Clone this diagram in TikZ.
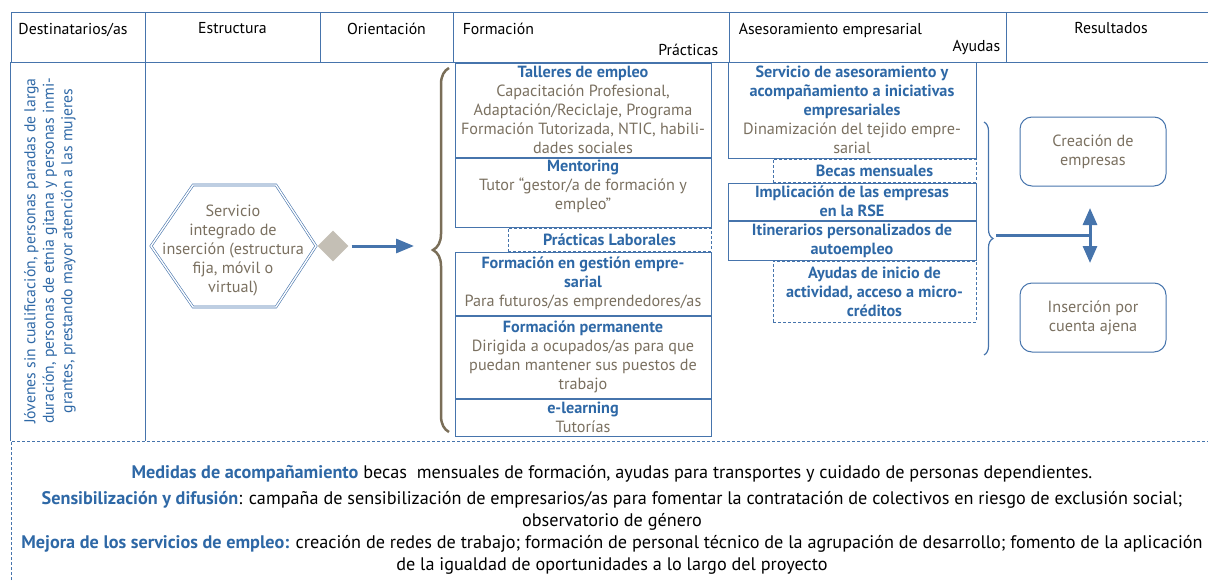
\documentclass[tikz,border=0pt]{standalone}
\usepackage{fontspec}
\setmainfont{PT Sans}
\usetikzlibrary{positioning,shapes.geometric,arrows.meta,decorations.pathreplacing}
\definecolor{azul}{RGB}{70,116,172}
\definecolor{azultit}{RGB}{46,104,166}
\definecolor{marron}{RGB}{122,112,96}
\definecolor{llavemarron}{RGB}{122,110,88}
\definecolor{grisrombo}{RGB}{196,191,181}
\newcommand{\titulo}[1]{\textcolor{azultit}{\textbf{#1}}}
\begin{document}
\begin{tikzpicture}[x=1pt, y=-1pt,
    every node/.style={font=\fontsize{16.2}{19}\selectfont, inner sep=0pt},
    celda/.style={draw=azul, line width=0.8pt, minimum height=50pt},
    cabtxt/.style={font=\fontsize{15.8}{19}\selectfont},
    caja/.style={draw=azul, line width=1pt, align=center, text=marron},
    punteada/.style={caja, dash pattern=on 3pt off 2pt},
    resultado/.style={caja, rounded corners=12pt, minimum width=146pt, minimum height=69pt},
    flecha/.style={draw=azul, line width=3pt, -{Triangle[length=18pt,width=14pt]}}]
  \useasboundingbox (0,0) rectangle (1208,581);

  % Cabecera
  \node[celda, minimum width=134pt] (dest) at (78,37) {};
  \node[celda, minimum width=175pt] (estr) at (232.5,37) {};
  \node[celda, minimum width=133pt] (orie) at (386.5,37) {};
  \node[celda, minimum width=276pt] (form) at (591,37) {};
  \node[celda, minimum width=277pt] (ases) at (867.5,37) {};
  \node[celda, minimum width=210pt] (resu) at (1111,37) {};
  \node[cabtxt, below=11pt of dest.north, xshift=-5pt] (destT) {Destinatarios/as};
  \node[cabtxt, below=11pt of estr.north] (estrT) {Estructura};
  \node[cabtxt, below=11pt of orie.north] (orieT) {Orientación};
  \node[cabtxt, below right=11pt and 10pt of form.north west] (formT) {Formación};
  \node[cabtxt, above left=7pt and 11pt of form.south east] (pracT) {Prácticas};
  \node[cabtxt, below right=11pt and 10pt of ases.north west] (asesT) {Asesoramiento empresarial};
  \node[cabtxt, above left=7pt and 6pt of ases.south east] (ayudT) {Ayudas};
  \node[cabtxt, below=11pt of resu.north] (resuT) {Resultados};

  % Destinatarios y estructura
  \coordinate (fondo) at (0,441);
  \draw[azul, line width=0.8pt] (dest.south west) -- (dest.south west |- fondo);
  \draw[azul, line width=0.8pt] (dest.south east) -- (dest.south east |- fondo);
  \node[rotate=90, align=center, text=azultit, font=\fontsize{15.7}{18.5}\selectfont] (colect) at (50,251)
    {Jóvenes sin cualificación, personas paradas de larga\\
     duración, personas de etnia gitana y personas inmi-\\
     grantes, prestando mayor atención a las mujeres};

  \draw[azul, line width=0.6pt, double=white, double distance=1.4pt]
    (151,246) -- (193,185) -- (276,185) -- (316,246) -- (276,307) -- (193,307) -- cycle;
  \node[align=center, text=marron, font=\fontsize{16.2}{19}\selectfont] (serv) at (233,251)
    {Servicio\\integrado de\\inserción (estructura\\fija, móvil o\\virtual)};
  \node[diamond, fill=grisrombo, minimum size=31pt] (rombo) at (333,246) {};
  \coordinate (punta) at (432,246);
  \draw[flecha, shorten <=3pt, shorten >=18pt] (rombo.east) -- (punta);

  % Llave
  \draw[llavemarron, line width=2.5pt, decorate, decoration={brace, amplitude=16pt}]
    (449,432) -- (449,68);

  % Formacion
  \node[caja, minimum width=256pt, minimum height=94pt] (talleres) at (583,110)
    {\titulo{Talleres de empleo}\\Capacitación Profesional,\\Adaptación/Reciclaje, Programa\\Formación Tutorizada, NTIC, habili-\\dades sociales};
  \node[caja, minimum width=256pt, minimum height=69pt, below=0pt of talleres] (ment) {};
  \node[align=center, text=marron, below=2pt of ment.north] (mentT)
    {\titulo{Mentoring}\\Tutor “gestor/a de formación y\\empleo”};
  \node[punteada, minimum width=203pt, minimum height=23pt, below left=0pt and 0pt of ment.south east] (prac)
    {\titulo{Prácticas Laborales}};
  \node[caja, anchor=north, minimum width=256pt, minimum height=63pt] (gestion) at (ment.south |- prac.south)
    {\titulo{Formación en gestión empre-}\\\titulo{sarial}\\Para futuros/as emprendedores/as};
  \node[caja, minimum width=256pt, minimum height=82pt, below=0pt of gestion] (perm)
    {\titulo{Formación permanente}\\Dirigida a ocupados/as para que\\puedan mantener sus puestos de\\trabajo};
  \node[caja, minimum width=256pt, minimum height=37pt, below=0pt of perm] (elearn)
    {\titulo{e-learning}\\Tutorías};

  % Asesoramiento y ayudas
  \node[caja, minimum width=248pt, minimum height=96pt] (aseso) at (852,110)
    {\titulo{Servicio de asesoramiento y}\\\titulo{acompañamiento a iniciativas}\\\titulo{empresariales}\\Dinamización del tejido empre-\\sarial};
  \node[punteada, minimum width=203pt, minimum height=23pt, below left=0pt and 0pt of aseso.south east] (becas)
    {\titulo{Becas mensuales}};
  \node[caja, anchor=north, minimum width=248pt, minimum height=37pt] (rse) at (aseso.south |- becas.south)
    {\titulo{Implicación de las empresas}\\\titulo{en la RSE}};
  \node[caja, minimum width=248pt, minimum height=39pt, below=0pt of rse] (itin)
    {\titulo{Itinerarios personalizados de}\\\titulo{autoempleo}};
  \node[punteada, minimum width=203pt, minimum height=61pt, below left=0pt and 0pt of itin.south east] (ayudas)
    {\titulo{Ayudas de inicio de}\\\titulo{actividad, acceso a micro-}\\\titulo{créditos}};

  % Resultados
  \draw[azul, line width=1.2pt, decorate, decoration={brace, amplitude=9pt}]
    (984,122) -- (984,355);
  \coordinate (llave) at (996,235);
  \coordinate (cruce) at (1090,235);
  \coordinate (arriba) at (1090,208);
  \coordinate (abajo) at (1090,263);
  \draw[azul, line width=3pt] (llave) -- (cruce);
  \draw[azul, line width=3pt, {Triangle[length=17pt,width=14pt]}-{Triangle[length=17pt,width=14pt]}] (arriba) -- (abajo);
  \node[resultado] (crea) at (1093,151.5) {Creación de\\empresas};
  \node[resultado] (ajena) at (1093,317.5) {Inserción por\\cuenta ajena};

  % Medidas transversales
  \coordinate (esq) at (11,441);
  \draw[azul, line width=0.8pt, dash pattern=on 3pt off 2pt] (11,590) -- (esq) -- (1215,441);
  \node[align=center, font=\fontsize{18.2}{22}\selectfont] (medidas) at (612,520)
    {\titulo{Medidas de acompañamiento} becas~ mensuales de formación, ayudas para transportes y cuidado de personas dependientes.\\[4pt]
     \titulo{Sensibilización y difusión}: campaña de sensibilización de empresarios/as para fomentar la contratación de colectivos en riesgo de exclusión social;\\
     observatorio de género\\
     \titulo{Mejora de los servicios de empleo:} creación de redes de trabajo; formación de personal técnico de la agrupación de desarrollo; fomento de la aplicación\\
     de la igualdad de oportunidades a lo largo del proyecto};
\end{tikzpicture}
\end{document}
